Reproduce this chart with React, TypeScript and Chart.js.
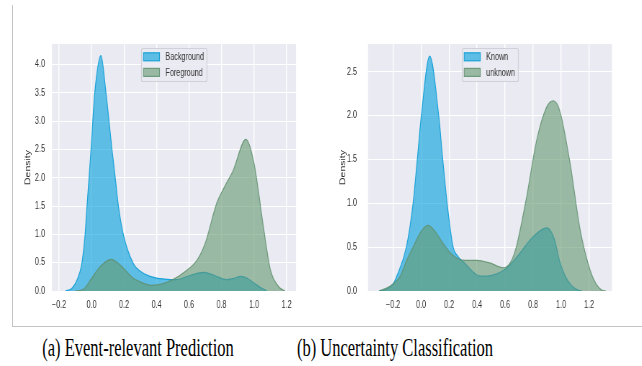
import React, { useEffect, useRef } from "react";
import { Chart, registerables } from "chart.js";

Chart.register(...registerables);

// ---------- Panel (a): Event-relevant Prediction ----------
const aBackgroundX = [-0.16, -0.12, -0.09, -0.06, -0.04, -0.028, -0.003, 0.02, 0.058, 0.089, 0.126, 0.146, 0.166, 0.197, 0.258, 0.3, 0.37, 0.45, 0.52, 0.6, 0.69, 0.76, 0.83, 0.87, 0.92, 0.96, 1.0, 1.04, 1.08];
const aBackgroundY = [0, 0.05, 0.19, 0.48, 0.98, 1.49, 2.5, 3.5, 4.16, 3.5, 2.5, 2.0, 1.49, 0.98, 0.48, 0.35, 0.25, 0.21, 0.2, 0.27, 0.33, 0.27, 0.2, 0.22, 0.26, 0.22, 0.14, 0.06, 0];
const aForegroundX = [-0.1, -0.05, 0.0, 0.05, 0.12, 0.18, 0.25, 0.3, 0.37, 0.43, 0.5, 0.57, 0.65, 0.7, 0.77, 0.82, 0.87, 0.95, 1.0, 1.06, 1.1, 1.15, 1.19];
const aForegroundY = [0, 0.03, 0.22, 0.42, 0.56, 0.45, 0.24, 0.16, 0.1, 0.12, 0.2, 0.33, 0.55, 0.85, 1.55, 1.85, 2.12, 2.68, 2.25, 1.08, 0.38, 0.08, 0];
const aLabels = ["Background", "Foreground"];
const aXTicks = [-0.2, 0.0, 0.2, 0.4, 0.6, 0.8, 1.0, 1.2];
const aYTicks = [0.0, 0.5, 1.0, 1.5, 2.0, 2.5, 3.0, 3.5, 4.0];
const aCaption = "(a) Event-relevant Prediction";

// ---------- Panel (b): Uncertainty Classification ----------
const bKnownX = [-0.3, -0.25, -0.2, -0.176, -0.105, -0.057, -0.027, 0.002, 0.062, 0.126, 0.155, 0.186, 0.229, 0.26, 0.31, 0.37, 0.42, 0.47, 0.53, 0.61, 0.7, 0.8, 0.9, 0.95, 0.99, 1.03, 1.07, 1.12, 1.15];
const bKnownY = [0, 0.02, 0.08, 0.16, 0.5, 1.0, 1.5, 2.0, 2.68, 2.0, 1.5, 1.0, 0.5, 0.4, 0.32, 0.22, 0.17, 0.17, 0.19, 0.26, 0.42, 0.62, 0.72, 0.6, 0.34, 0.17, 0.07, 0.01, 0];
const bUnknownX = [-0.3, -0.25, -0.2, -0.152, -0.1, -0.057, 0.0, 0.05, 0.1, 0.15, 0.2, 0.25, 0.31, 0.4, 0.49, 0.59, 0.64, 0.68, 0.755, 0.826, 0.898, 0.945, 0.99, 1.064, 1.136, 1.207, 1.25, 1.29, 1.32];
const bUnknownY = [0, 0.03, 0.08, 0.16, 0.36, 0.5, 0.68, 0.75, 0.68, 0.56, 0.45, 0.38, 0.35, 0.35, 0.32, 0.265, 0.33, 0.5, 1.08, 1.72, 2.1, 2.17, 2.06, 1.46, 0.7, 0.24, 0.08, 0.01, 0];
const bLabels = ["Known", "unknown"];
const bXTicks = [-0.2, 0.0, 0.2, 0.4, 0.6, 0.8, 1.0, 1.2];
const bYTicks = [0.0, 0.5, 1.0, 1.5, 2.0, 2.5];
const bCaption = "(b) Uncertainty Classification";

const yTitle = "Density";

const FAMILY = '"Liberation Sans", Arial, sans-serif';
const BLUE_FILL = "rgba(0,159,219,0.6)";
const BLUE_LINE = "rgba(20,160,215,0.95)";
const GREEN_FILL = "rgba(99,152,112,0.6)";
const GREEN_LINE = "rgba(95,145,110,0.85)";
const PLOT_BG = "#eaeaf2";
const SX = 0.72; // horizontal compression of the original figure

const fmt = (v: number) => (v < 0 ? "\u2212" : "") + Math.abs(v).toFixed(1);

type PanelProps = {
  width: number;
  height: number;
  xs: number[][];
  ys: number[][];
  labels: string[];
  xTicks: number[];
  yTicks: number[];
  xMin: number;
  xMax: number;
  yMax: number;
  areaLeft: number;
  areaRight: number;
  yTickPad: number;
  titleCenter: number;
};

function Panel(p: PanelProps) {
  const ref = useRef<HTMLCanvasElement | null>(null);
  const iw = Math.round(p.width / SX);
  useEffect(() => {
    if (!ref.current) return;
    const fills = [BLUE_FILL, GREEN_FILL];
    const lines = [BLUE_LINE, GREEN_LINE];
    const bgPlugin = {
      id: "plotBg",
      beforeDraw(chart: any) {
        const a = chart.chartArea;
        const ctx = chart.ctx;
        ctx.save();
        ctx.fillStyle = PLOT_BG;
        ctx.fillRect(a.left, a.top, a.right - a.left, a.bottom - a.top);
        ctx.restore();
      },
    };
    const legendPlugin = {
      id: "kdeLegend",
      afterDraw(chart: any) {
        const ctx = chart.ctx;
        const a = chart.chartArea;
        ctx.save();
        ctx.font = `10px ${FAMILY}`;
        const tw = Math.max(...p.labels.map((l) => ctx.measureText(l).width));
        const w = Math.round((24 + 3) / SX + tw);
        const h = 33;
        const x0 = Math.round((a.left + a.right) / 2 - w / 2) + 0.5;
        const y0 = a.top + 4.5;
        ctx.fillStyle = "rgba(234,234,242,0.85)";
        ctx.strokeStyle = "#d0d0d8";
        ctx.lineWidth = 1.2;
        ctx.beginPath();
        if ((ctx as any).roundRect) (ctx as any).roundRect(x0, y0, w, h, 2);
        else ctx.rect(x0, y0, w, h);
        ctx.fill();
        ctx.stroke();
        p.labels.forEach((lab, i) => {
          const cy = y0 + 8.3 + i * 15.6;
          ctx.fillStyle = fills[i];
          ctx.fillRect(x0 + 2 / SX, cy - 4, 16 / SX, 8);
          ctx.strokeStyle = lines[i];
          ctx.lineWidth = 1.2;
          ctx.strokeRect(x0 + 2 / SX, cy - 4, 16 / SX, 8);
          ctx.fillStyle = "#333333";
          ctx.textBaseline = "middle";
          ctx.textAlign = "left";
          ctx.fillText(lab, x0 + 24 / SX, cy + 0.5);
        });
        ctx.restore();
      },
    };
    const datasets = p.labels.map((lab, i) => ({
      label: lab,
      data: p.xs[i].map((x, j) => ({ x, y: p.ys[i][j] })),
      fill: "origin",
      backgroundColor: fills[i],
      borderColor: lines[i],
      borderWidth: 1.2,
      pointRadius: 0,
      cubicInterpolationMode: "monotone",
      order: i === 0 ? 1 : 0,
    }));
    const yWidth = p.areaLeft / SX;
    const padRight = iw - p.areaRight / SX;
    const titlePad = p.titleCenter / SX - 6.3;
    const chart = new Chart(ref.current, {
      type: "line",
      data: { datasets } as any,
      plugins: [bgPlugin, legendPlugin],
      options: {
        animation: false,
        responsive: false,
        maintainAspectRatio: false,
        layout: { padding: { left: 0, right: padRight, top: 44, bottom: 9 } },
        plugins: { legend: { display: false }, tooltip: { enabled: false } },
        scales: {
          x: {
            type: "linear",
            min: p.xMin,
            max: p.xMax,
            afterBuildTicks: (s: any) => {
              s.ticks = p.xTicks.map((v) => ({ value: v }));
            },
            afterFit: (s: any) => {
              s.height = 20;
            },
            ticks: {
              autoSkip: false,
              maxRotation: 0,
              padding: 8,
              color: "#333333",
              font: { family: FAMILY, size: 10 },
              callback: (v: any) => fmt(Number(v)),
            },
            grid: { color: "#ffffff", lineWidth: 1.4, drawTicks: false },
            border: { display: false },
          },
          y: {
            type: "linear",
            min: 0,
            max: p.yMax,
            afterBuildTicks: (s: any) => {
              s.ticks = p.yTicks.map((v) => ({ value: v }));
            },
            afterFit: (s: any) => {
              s.width = yWidth;
            },
            ticks: {
              autoSkip: false,
              padding: p.yTickPad / SX,
              color: "#333333",
              font: { family: FAMILY, size: 10 },
              callback: (v: any) => fmt(Number(v)),
            },
            grid: { color: "#ffffff", lineWidth: 1, drawTicks: false },
            border: { display: false },
            title: {
              display: true,
              text: yTitle,
              color: "#333333",
              font: { family: FAMILY, size: 10.5 },
              padding: { top: titlePad, bottom: 0 },
            },
          },
        },
      } as any,
    });
    return () => chart.destroy();
  }, []);
  return (
    <div style={{ width: iw, height: p.height, transform: `scaleX(${SX})`, transformOrigin: "0 0" }}>
      <canvas
        ref={ref}
        width={iw}
        height={p.height}
        style={{ width: iw, height: p.height, display: "block" }}
      />
    </div>
  );
}

const captionStyle = (center: number): React.CSSProperties => ({
  position: "absolute",
  left: center - 200,
  width: 400,
  top: 335,
  height: 26,
  lineHeight: "26px",
  fontFamily: '"Liberation Serif", "Times New Roman", serif',
  fontSize: 26,
  color: "#000",
  textAlign: "center",
  whiteSpace: "nowrap",
  transform: "scaleX(0.635)",
  transformOrigin: "center",
});

export default function App() {
  return (
    <div
      style={{
        position: "absolute",
        left: 0,
        top: 0,
        width: 642,
        height: 366,
        background: "#fff",
        overflow: "hidden",
      }}
    >
      <div style={{ position: "absolute", left: 0, top: 0 }}>
        <Panel
          width={320}
          height={320}
          xs={[aBackgroundX, aForegroundX]}
          ys={[aBackgroundY, aForegroundY]}
          labels={aLabels}
          xTicks={aXTicks}
          yTicks={aYTicks}
          xMin={-0.243}
          xMax={1.258}
          yMax={4.365}
          areaLeft={52}
          areaRight={296}
          yTickPad={7}
          titleCenter={28}
        />
      </div>
      <div style={{ position: "absolute", left: 320, top: 0 }}>
        <Panel
          width={322}
          height={320}
          xs={[bKnownX, bUnknownX]}
          ys={[bKnownY, bUnknownY]}
          labels={bLabels}
          xTicks={bXTicks}
          yTicks={bYTicks}
          xMin={-0.379}
          xMax={1.364}
          yMax={2.817}
          areaLeft={48}
          areaRight={292}
          yTickPad={11}
          titleCenter={23}
        />
      </div>
      <div style={{ position: "absolute", left: 12, top: 5, width: 1, height: 322, background: "#c4c4c4" }} />
      <div style={{ position: "absolute", left: 12, top: 326, width: 630, height: 1, background: "#c4c4c4" }} />
      <div style={captionStyle(137.5)}>{aCaption}</div>
      <div style={captionStyle(395)}>{bCaption}</div>
    </div>
  );
}
